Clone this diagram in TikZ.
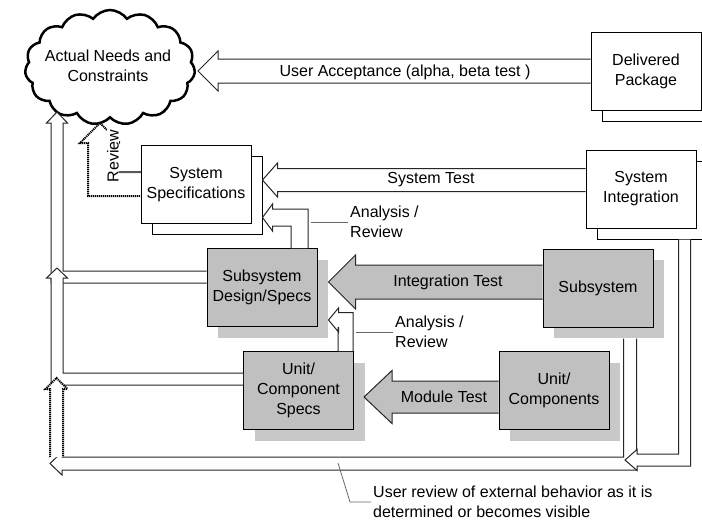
\documentclass[tikz,border=0pt]{standalone}
\usepackage{fontspec}
\setmainfont{Liberation Sans}
\usetikzlibrary{calc,shapes.symbols,shadows}

\definecolor{boxgray}{RGB}{192,192,192}
\definecolor{shadowgray}{RGB}{200,200,200}

% block arrows: [style]{tail}{tip}{half shaft}{half head}{head length}
\newcommand{\blockleft}[6][]{%
  \draw[#1] let \p1=(#2), \p2=(#3) in
    (\x1,\y2+#4pt) -- (\x2+#6pt,\y2+#4pt) -- (\x2+#6pt,\y2+#5pt) -- (\x2,\y2)
    -- (\x2+#6pt,\y2-#5pt) -- (\x2+#6pt,\y2-#4pt) -- (\x1,\y2-#4pt);}
\newcommand{\blockupleft}[6][]{%
  \draw[#1] let \p1=(#2), \p2=(#3) in
    (\x1-#4pt,\y1) -- (\x1-#4pt,\y2-#4pt) -- (\x2+#6pt,\y2-#4pt) -- (\x2+#6pt,\y2-#5pt)
    -- (\x2,\y2) -- (\x2+#6pt,\y2+#5pt) -- (\x2+#6pt,\y2+#4pt) -- (\x1+#4pt,\y2+#4pt) -- (\x1+#4pt,\y1);}
\newcommand{\blockleftup}[6][]{%
  \draw[#1] let \p1=(#2), \p2=(#3) in
    (\x1,\y1+#4pt) -- (\x2+#4pt,\y1+#4pt) -- (\x2+#4pt,\y2-#6pt) -- (\x2+#5pt,\y2-#6pt)
    -- (\x2,\y2) -- (\x2-#5pt,\y2-#6pt) -- (\x2-#4pt,\y2-#6pt) -- (\x2-#4pt,\y1-#4pt) -- (\x1,\y1-#4pt);}
\newcommand{\blockdownleft}[6][]{%
  \draw[#1] let \p1=(#2), \p2=(#3) in
    (\x1-#4pt,\y1) -- (\x1-#4pt,\y2+#4pt) -- (\x2+#6pt,\y2+#4pt) -- (\x2+#6pt,\y2+#5pt)
    -- (\x2,\y2) -- (\x2+#6pt,\y2-#5pt) -- (\x2+#6pt,\y2-#4pt) -- (\x1+#4pt,\y2-#4pt) -- (\x1+#4pt,\y1);}
\newcommand{\blockup}[6][]{%
  \draw[#1] let \p1=(#2), \p2=(#3) in
    (\x2-#4pt,\y1) -- (\x2-#4pt,\y2-#6pt) -- (\x2-#5pt,\y2-#6pt) -- (\x2,\y2)
    -- (\x2+#5pt,\y2-#6pt) -- (\x2+#4pt,\y2-#6pt) -- (\x2+#4pt,\y1);}

\tikzset{
  box/.style={draw=black, line width=1pt, minimum width=110pt, minimum height=78pt,
    inner sep=2pt, align=center},
  whitebox/.style={box, fill=white,
    copy shadow={shadow xshift=11pt, shadow yshift=-11pt, line width=1pt}},
  graybox/.style={box, fill=boxgray,
    copy shadow={shadow xshift=11pt, shadow yshift=-11pt, fill=shadowgray, draw=none}},
  hollow/.style={draw=black!85, fill=white, line width=1pt},
  solidarr/.style={hollow, fill=boxgray},
  dotarr/.style={draw=black, fill=white, line width=2pt, dash pattern=on 1.2pt off 0.8pt},
  noteline/.style={draw=black!60, line width=0.8pt},
  lbl/.style={inner sep=2pt}
}

\begin{document}
\begin{tikzpicture}[x=1pt, y=-1pt, font=\fontsize{16pt}{20pt}\selectfont]
  \useasboundingbox (0,0) rectangle (702,520);
  \clip (0,0) rectangle (702,520);

  % stages
  \node[cloud, draw, line width=2.5pt, cloud puffs=15, cloud puff arc=110,
    minimum width=170pt, minimum height=115pt, inner sep=0pt]
    (need) at (110,67.5) {};
  \node[align=center] (needtext) at ($(need.center)+(-2,-2)$) {Actual Needs and\\Constraints};
  \node[whitebox] (deliv) at (646,71) {Delivered\\Package};
  \node[whitebox] (spec) at (196,184.5) {System\\Specifications};
  \node[whitebox] (sysint) at (641,189) {System\\Integration};
  \node[graybox] (subdes) at (262,287.5) {Subsystem\\Design/Specs};
  \node[graybox] (subsys) at (598,288) {Subsystem};
  \node[graybox] (unitspec) at (298.5,390.5) {Unit/\\Component\\Specs};
  \node[graybox] (unitcomp) at (554,390.5) {Unit/\\Components};

  % tests
  \coordinate (uatip) at ($(need.center)+(88,3.5)$);
  \coordinate (sttip) at ($(spec.east)+(11,-4.5)$);
  \coordinate (ittip) at ($(subdes.east)+(11,-5.5)$);
  \coordinate (mttip) at ($(unitspec.east)+(10,6.5)$);
  \blockleft[hollow]{deliv.west}{uatip}{12}{20}{20}
  \blockleft[hollow]{sysint.west}{sttip}{11.5}{17}{15}
  \blockleft[solidarr]{subsys.west}{ittip}{17}{27}{27}
  \blockleft[solidarr]{unitcomp.west}{mttip}{16}{26.5}{28}

  % analysis / review
  \coordinate (ar1tip) at ($(spec.east)+(11,33)$);
  \coordinate (ar2tip) at ($(subdes.east)+(11,32.5)$);
  \blockupleft[hollow]{$(subdes.north)+(37.5,0)$}{ar1tip}{8.5}{13.5}{10}
  \blockupleft[hollow]{$(unitspec.north)+(47,0)$}{ar2tip}{7.5}{12}{10}

  % feedback to the needs
  \coordinate (needfoot) at ($(need.center)+(-53,44.5)$);
  \coordinate (colmid) at ($(needfoot |- subdes.west)+(0,-19.5)$);
  \coordinate (bottip) at ($(needfoot)+(-7,351.5)$);
  \coordinate (inttip) at ($(subsys.south)+(27,132.5)$);
  \coordinate (colbot) at ($(colmid)+(-0.5,110)$);
  \coordinate (revtip) at ($(need.center)+(-10,55.5)$);
  \blockleftup[hollow]{$(subdes.west)+(0,-10.5)$}{needfoot}{6}{10.5}{11}
  \blockleftup[hollow]{$(unitspec.west)+(0,-11.5)$}{colmid}{6}{10.5}{10}
  \blockdownleft[hollow]{$(subsys.south)+(32,11)$}{bottip}{6.5}{11.5}{12}
  \blockdownleft[hollow]{$(sysint.south)+(43.5,11)$}{inttip}{6}{10.5}{12}
  \blockup[dotarr]{$(bottip)+(0,-6.5)$}{colbot}{6.5}{11}{11}
  \blockleftup[dotarr]{$(spec.west)+(0,-0.5)$}{revtip}{12}{20}{20}

  % labels
  \node[fill=white, inner sep=0.5pt, rotate=90] (revlbl) at (113,156) {Review};
  \node (ualbl) at (405,72) {User Acceptance (alpha, beta test\ )};
  \node (stlbl) at (431,180) {System Test};
  \node (itlbl) at (448,282) {Integration Test};
  \node (mtlbl) at (444,397) {Module Test};
  \node[lbl, anchor=west, align=left] (ar1lbl) at (348,222) {Analysis /\\Review};
  \draw[noteline] (ar1lbl.west) -- ++(-37,0);
  \node[lbl, anchor=west, align=left] (ar2lbl) at (393,332) {Analysis /\\Review};
  \draw[noteline] (ar2lbl.west) -- ++(-37,0);
  \node[lbl, anchor=west, align=left] (urevlbl) at (371,502)
    {User review of external behavior as it is\\determined or becomes visible};
  \draw[noteline] (urevlbl.west) -- ++(-21,0) -- ++(-12,-39);
\end{tikzpicture}
\end{document}
